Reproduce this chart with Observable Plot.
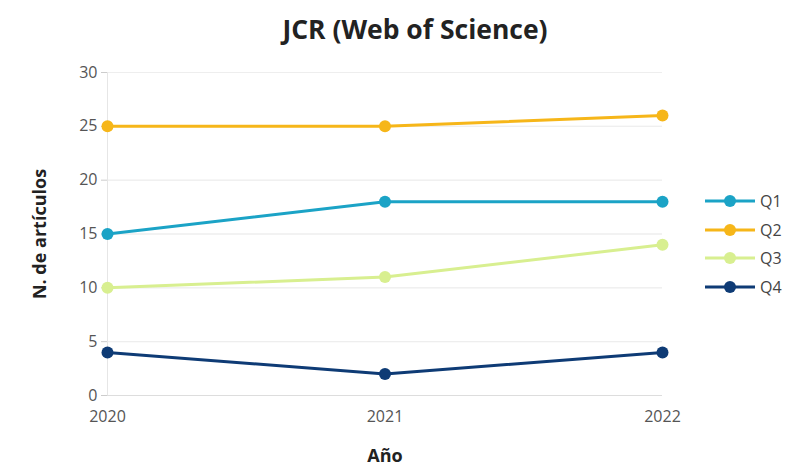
<!DOCTYPE html>
<html><head><meta charset="utf-8">
<script src="https://cdn.jsdelivr.net/npm/d3@7"></script>
<script src="https://cdn.jsdelivr.net/npm/@observablehq/plot@0.6"></script>
<style>
body{margin:0;background:#fff;font-family:"Open Sans",sans-serif;}
#wrap{position:relative;width:800px;height:466px;}
#title{height:55px;line-height:58px;text-align:center;font-weight:bold;font-size:26.5px;color:#222;padding-left:30px;box-sizing:border-box;}
#legend{position:absolute;left:705px;top:187px;font-size:16px;color:#444;}
#legend div{height:28.5px;display:flex;align-items:center;}
#legend svg{margin-right:5px;}
</style></head><body>
<div id="wrap"><div id="title">JCR (Web of Science)</div><div id="chart"></div><div id="legend"></div></div>
<script>
const years=[2020,2021,2022];
const series=["Q1","Q2","Q3","Q4"];
const q1=[15,18,18];
const q2=[25,25,26];
const q3=[10,11,14];
const q4=[4,2,4];
const colors=["#1ba3c6","#f6b619","#d8ef90","#0e3b75"];
const yTicks=[0,5,10,15,20,25,30];
const vals=[q1,q2,q3,q4];
const data=[];
series.forEach((s,i)=>years.forEach((y,j)=>data.push({year:y,value:vals[i][j],s})));
const chart=Plot.plot({
  width:800,height:411,
  marginLeft:107,marginRight:138,marginTop:17,marginBottom:71,
  style:{fontFamily:"Open Sans",fontSize:"16px",color:"#555"},
  x:{domain:[2020,2022],ticks:years,tickFormat:d=>String(d),label:"Año",labelArrow:"none",labelAnchor:"center",labelOffset:66,tickSize:0,tickPadding:15},
  y:{domain:[0,30],ticks:yTicks,label:"N. de artículos",labelArrow:"none",labelAnchor:"center",labelOffset:74,tickSize:6,tickPadding:4,grid:true},
  color:{domain:series,range:colors},
  marks:[
    Plot.ruleY(yTicks,{stroke:"#eee"}),
    Plot.ruleY([0],{stroke:"#ddd"}),
    Plot.ruleX([2020],{stroke:"#e6e6e6"}),
    Plot.line(data,{x:"year",y:"value",z:"s",stroke:"s",strokeWidth:3}),
    Plot.dot(data,{x:"year",y:"value",fill:"s",r:6})
  ]
});
document.getElementById("chart").appendChild(chart);
const lbls=d3.select(chart).selectAll('[aria-label="y-axis label"] text, [aria-label="x-axis label"] text');
lbls.attr("font-weight","bold").attr("fill","#222").attr("font-size","18px")
  .each(function(){this.textContent=this.textContent.replace(/\s*[→↑←↓]\s*/g,"");});
d3.select(chart).selectAll('[aria-label="y-axis tick"]').attr("stroke","#ccc");
const lg=document.getElementById("legend");
series.forEach((s,i)=>{
  const d=document.createElement("div");
  d.innerHTML=`<svg width="50" height="14"><line x1="0" x2="50" y1="7" y2="7" stroke="${colors[i]}" stroke-width="3"/><circle cx="25" cy="7" r="6" fill="${colors[i]}"/></svg>${s}`;
  lg.appendChild(d);
});
</script></body></html>
